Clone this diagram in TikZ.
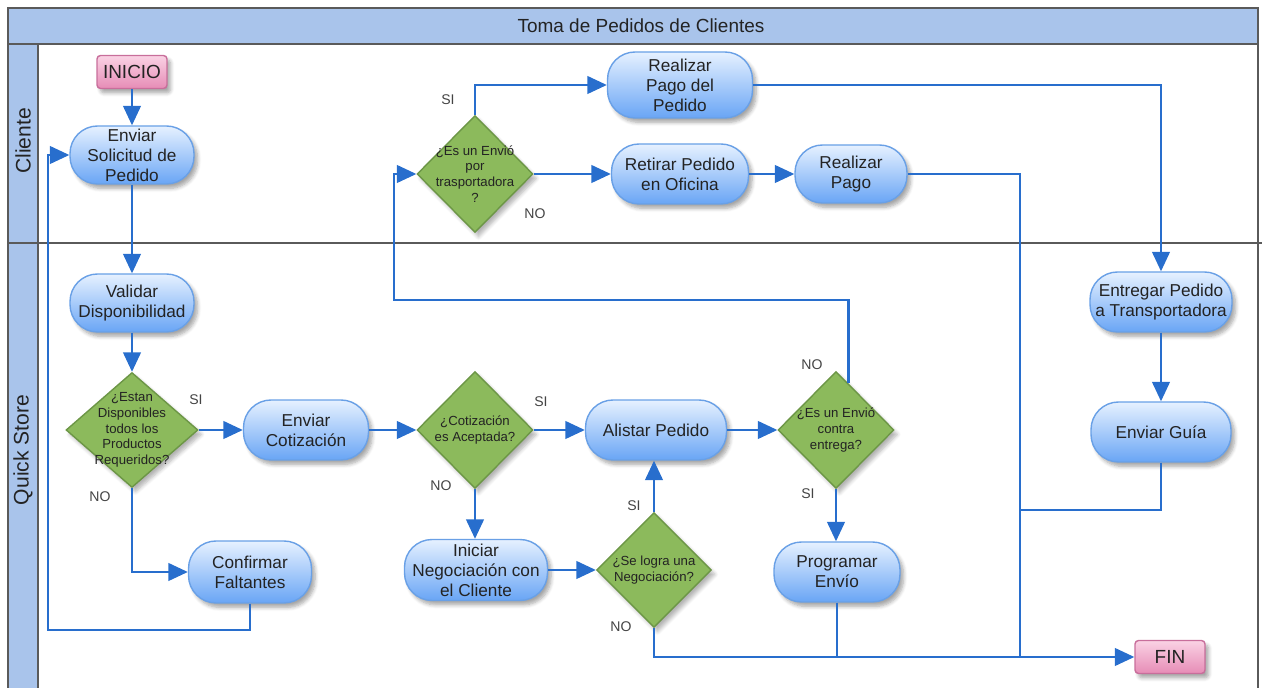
\documentclass[tikz,border=0pt]{standalone}
\usepackage{fontspec}
\setmainfont{Liberation Sans}
\usetikzlibrary{shapes.geometric,arrows.meta,shadows.blur}
\definecolor{azulBanda}{RGB}{169,196,235}
\definecolor{azulLinea}{RGB}{40,110,205}
\definecolor{azulBorde}{RGB}{105,160,230}
\definecolor{azulClaro}{RGB}{230,241,255}
\definecolor{azulOscuro}{RGB}{105,165,245}
\definecolor{verdeRombo}{RGB}{140,186,92}
\definecolor{verdeBorde}{RGB}{108,150,70}
\definecolor{rosaClaro}{RGB}{250,210,228}
\definecolor{rosaOscuro}{RGB}{230,140,182}
\definecolor{rosaBorde}{RGB}{200,110,155}
\definecolor{grisMarco}{RGB}{90,90,90}
\definecolor{grisTexto}{RGB}{35,35,35}

\begin{document}
\begin{tikzpicture}[x=0.02cm, y=-0.02cm,
  tarea/.style={rectangle, rounded corners=0.55cm, draw=azulBorde, line width=0.8pt,
                top color=azulClaro, bottom color=azulOscuro, align=center,
                inner sep=1pt, text=grisTexto, font=\fontsize{9.8}{11.4}\selectfont,
                blur shadow={shadow xshift=2pt, shadow yshift=-2.5pt,
                             shadow blur steps=6, shadow opacity=35}},
  rombo/.style={diamond, draw=verdeBorde, line width=0.8pt, fill=verdeRombo,
                minimum width=2.32cm, minimum height=2.34cm, inner sep=0pt,
                blur shadow={shadow xshift=2pt, shadow yshift=-2.5pt,
                             shadow blur steps=6, shadow opacity=30}},
  txtrombo/.style={align=center, inner sep=0pt, text=grisTexto,
                   font=\fontsize{7.5}{9}\selectfont},
  terminal/.style={rectangle, rounded corners=2pt, draw=rosaBorde, line width=0.8pt,
                   top color=rosaClaro, bottom color=rosaOscuro,
                   minimum width=1.4cm, minimum height=0.66cm, text=grisTexto,
                   font=\fontsize{10.8}{13}\selectfont,
                   blur shadow={shadow xshift=2pt, shadow yshift=-2.5pt,
                                shadow blur steps=6, shadow opacity=35}},
  rotulo/.style={text=grisTexto!85, font=\fontsize{8}{9}\selectfont},
  marco/.style={draw=grisMarco, line width=0.9pt},
  linea/.style={line width=1.2pt, azulLinea},
  flecha/.style={-{Triangle[length=11pt, width=10pt]}, line width=1.2pt, azulLinea}]

  \useasboundingbox (0,0) rectangle (1262,688);

  \fill[azulBanda] (8,8) rectangle (1258,44);
  \fill[azulBanda] (8,44) rectangle (38,688);
  \draw[marco] (8,688) -- (8,8) -- (1258,8) -- (1258,688);
  \draw[marco] (8,44) -- (1258,44);
  \draw[marco] (38,44) -- (38,688);
  \draw[marco] (8,243) -- (1262,243);

  \node[text=grisTexto, font=\fontsize{10.8}{13}\selectfont] (titulo) at (641,26)
    {Toma de Pedidos de Clientes};
  \node[rotate=90, text=grisTexto, font=\fontsize{12}{14}\selectfont] (carrilCliente)
    at (23,141) {Cliente};
  \node[rotate=90, text=grisTexto, font=\fontsize{12}{14}\selectfont] (carrilTienda)
    at (23,450) {Quick Store};

  \node[terminal] (inicio) at (132,72) {INICIO};
  \node[tarea, minimum width=2.48cm, minimum height=1.16cm] (solicitud) at (132,155)
    {Enviar\\Solicitud de\\Pedido};
  \node[rombo, label={[txtrombo]center:{¿Es un Envió\\por\\trasportadora\\?}}]
    (trasp) at (475,174) {};
  \node[tarea, minimum width=2.9cm, minimum height=1.32cm] (pagoped) at (680,85)
    {Realizar\\Pago del\\Pedido};
  \node[tarea, minimum width=2.74cm, minimum height=1.2cm] (retirar) at (680,174)
    {Retirar Pedido\\en Oficina};
  \node[tarea, minimum width=2.24cm, minimum height=1.16cm] (pago) at (851,174)
    {Realizar\\Pago};

  \node[tarea, minimum width=2.48cm, minimum height=1.16cm] (validar) at (132,303)
    {Validar\\Disponibilidad};
  \node[rombo, minimum width=2.64cm, minimum height=2.3cm,
        label={[txtrombo]center:{¿Estan\\Disponibles\\todos los\\Productos\\Requeridos?}}]
    (dispo) at (132,430) {};
  \node[tarea, minimum width=2.5cm, minimum height=1.2cm] (cotiz) at (306,430)
    {Enviar\\Cotización};
  \node[rombo, label={[txtrombo]center:{¿Cotización\\es Aceptada?}}]
    (acepta) at (475,430) {};
  \node[tarea, minimum width=2.82cm, minimum height=1.2cm] (alistar) at (656,430)
    {Alistar Pedido};
  \node[rombo, label={[txtrombo]center:{¿Es un Envió\\contra\\entrega?}}]
    (contra) at (836,430) {};
  \node[tarea, minimum width=2.46cm, minimum height=1.24cm] (faltan) at (250,572)
    {Confirmar\\Faltantes};
  \node[tarea, minimum width=2.86cm, minimum height=1.22cm] (negoc) at (476,570)
    {Iniciar\\Negociación con\\el Cliente};
  \node[rombo, minimum width=2.3cm, minimum height=2.3cm,
        label={[txtrombo]center:{¿Se logra una\\Negociación?}}]
    (logra) at (654,570) {};
  \node[tarea, minimum width=2.52cm, minimum height=1.2cm] (programar) at (837,572)
    {Programar\\Envío};
  \node[tarea, minimum width=2.84cm, minimum height=1.2cm] (entregar) at (1161,302)
    {Entregar Pedido\\a Transportadora};
  \node[tarea, minimum width=2.8cm, minimum height=1.2cm] (guia) at (1161,432)
    {Enviar Guía};
  \node[terminal] (fin) at (1170,657) {FIN};

  \coordinate (retorno) at (48,630);
  \coordinate (vuelta) at (394,300);
  \coordinate (union) at (1020,657);
  \coordinate (nudo) at (1020,510);

  \draw[flecha] (inicio.south) -- (solicitud.north);
  \draw[flecha] (solicitud.south) -- (validar.north);
  \draw[flecha] (validar.south) -- (dispo.north);
  \draw[flecha] (dispo.east) -- (cotiz.west);
  \draw[flecha] (dispo.south) |- (faltan.west);
  \draw[flecha] (faltan.south) |- (retorno) |- (solicitud.west);
  \draw[flecha] (cotiz.east) -- (acepta.west);
  \draw[flecha] (acepta.east) -- (alistar.west);
  \draw[flecha] (acepta.south) -- (acepta.south |- negoc.north);
  \draw[flecha] (negoc.east) -- (logra.west);
  \draw[flecha] (logra.north) -- (logra.north |- alistar.south);
  \draw[flecha] (logra.south) |- (fin.west);
  \draw[flecha] (alistar.east) -- (contra.west);
  \draw[flecha] (contra.south) -- (contra.south |- programar.north);
  \draw[flecha] (contra.75) |- (vuelta) |- (trasp.west);
  \draw[flecha] (trasp.north) |- (pagoped.west);
  \draw[flecha] (trasp.east) -- (retirar.west);
  \draw[flecha] (retirar.east) -- (pago.west);
  \draw[flecha] (pagoped.east) -| (entregar.north);
  \draw[flecha] (entregar.south) -- (guia.north);
  \draw[linea] (pago.east) -| (union);
  \draw[linea] (guia.south) |- (nudo);
  \draw[linea] (programar.south) -- (programar.south |- fin.west);

  \node[rotulo] (siTrasp) at (448,100) {SI};
  \node[rotulo] (noTrasp) at (535,214) {NO};
  \node[rotulo] (siDispo) at (196,400) {SI};
  \node[rotulo] (noDispo) at (100,497) {NO};
  \node[rotulo] (siAcepta) at (541,402) {SI};
  \node[rotulo] (noAcepta) at (441,486) {NO};
  \node[rotulo] (siLogra) at (634,506) {SI};
  \node[rotulo] (noLogra) at (621,627) {NO};
  \node[rotulo] (noContra) at (812,365) {NO};
  \node[rotulo] (siContra) at (808,494) {SI};
\end{tikzpicture}
\end{document}
